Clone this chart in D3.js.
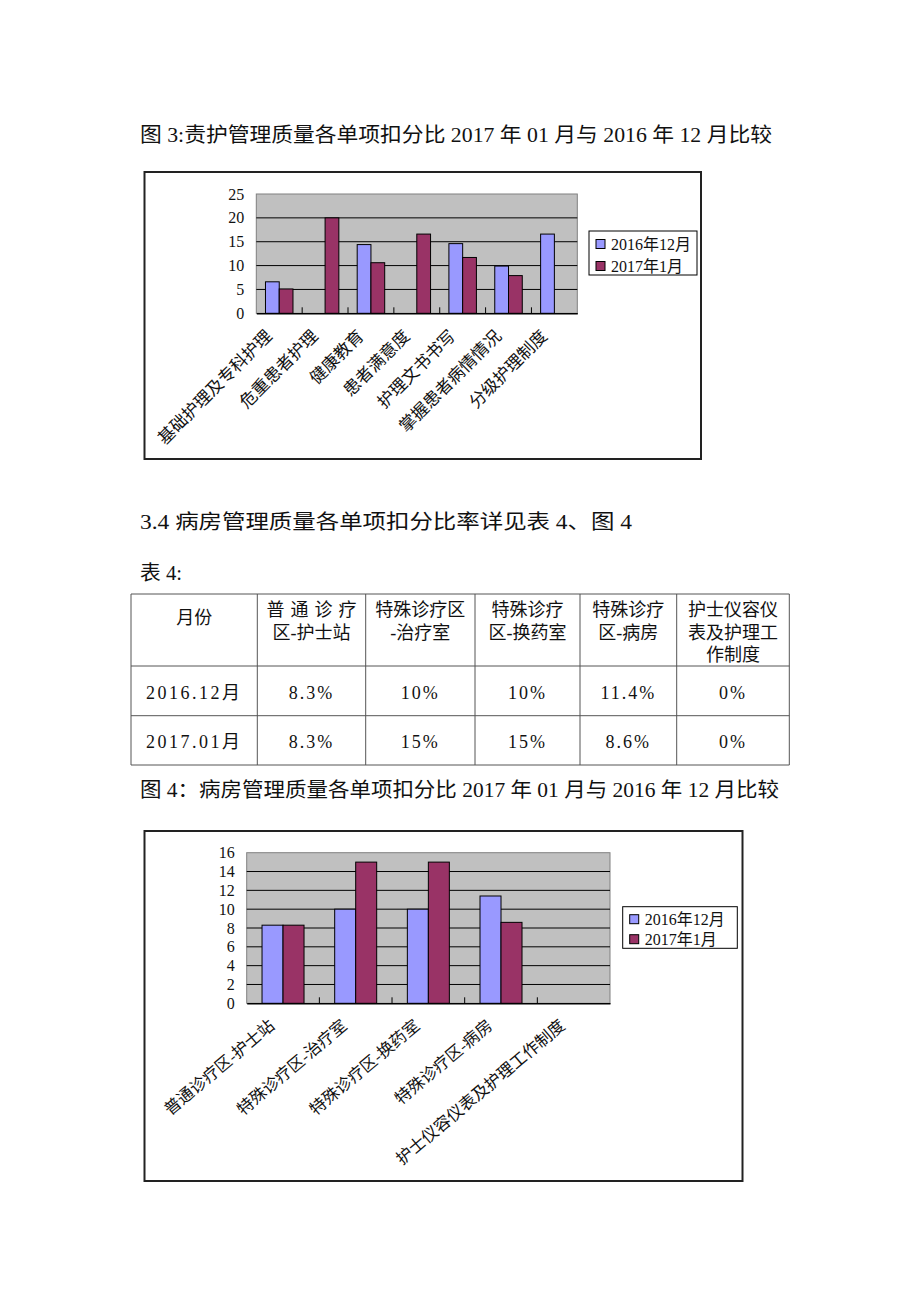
<!DOCTYPE html>
<html><head><meta charset="utf-8">
<script src="https://cdn.jsdelivr.net/npm/d3@7"></script>
<style>
html,body{margin:0;padding:0;background:#fff;}
svg{display:block;}
text{font-family:"Liberation Serif","Noto Sans CJK SC",serif;fill:#111;}
</style></head><body>
<script>
// ---------- data ----------
const series = ["2016年12月", "2017年1月"];
const chart1Categories = ["基础护理及专科护理","危重患者护理","健康教育","患者满意度","护理文书书写","掌握患者病情情况","分级护理制度"];
const chart1Dec2016 = [6.6, 0, 14.4, 0, 14.6, 9.9, 16.6];
const chart1Jan2017 = [5.1, 20, 10.6, 16.6, 11.7, 7.9, 0];
const chart1Ticks = [0, 5, 10, 15, 20, 25];

const chart2Categories = ["普通诊疗区-护士站","特殊诊疗区-治疗室","特殊诊疗区-换药室","特殊诊疗区-病房","护士仪容仪表及护理工作制度"];
const chart2Dec2016 = [8.3, 10, 10, 11.4, 0];
const chart2Jan2017 = [8.3, 15, 15, 8.6, 0];
const chart2Ticks = [0, 2, 4, 6, 8, 10, 12, 14, 16];

const tableHeaderLines = [["月份"],["普通诊疗","区-护士站"],["特殊诊疗区","-治疗室"],["特殊诊疗","区-换药室"],["特殊诊疗","区-病房"],["护士仪容仪","表及护理工","作制度"]];
const tableRowLabels = ["2016.12月","2017.01月"];
const tableRow2016 = ["8.3%","10%","10%","11.4%","0%"];
const tableRow2017 = ["8.3%","15%","15%","8.6%","0%"];

const colors = ["#9999ff", "#993366"];

const svg = d3.select("body").append("svg").attr("width", 920).attr("height", 1302);

// ---------- paragraph text ----------
function para(txt, x, y, len){
  const t = svg.append("text").attr("x", x).attr("y", y).attr("dominant-baseline","central")
    .attr("font-size", 20).text(txt);
  if (len) t.attr("textLength", len).attr("lengthAdjust","spacingAndGlyphs");
}
para("图 3:责护管理质量各单项扣分比 2017 年 01 月与 2016 年 12 月比较", 140, 135, 632);
para("3.4 病房管理质量各单项扣分比率详见表 4、图 4", 140, 522, 492);
para("表 4:", 140, 573, 42);
para("图 4：病房管理质量各单项扣分比 2017 年 01 月与 2016 年 12 月比较", 140, 790, 639);

// ---------- chart ----------
function drawChart(o){
  const g = svg.append("g");
  g.append("rect").attr("x", o.box[0]).attr("y", o.box[1]).attr("width", o.box[2]).attr("height", o.box[3])
    .attr("fill","#fff").attr("stroke","#222").attr("stroke-width",2);
  const x = d3.scaleBand().domain(o.cats).range([o.px0, o.px1]).paddingInner(0).paddingOuter(0);
  const xs = d3.scaleBand().domain(series).range([0, x.bandwidth()]).paddingInner(0).paddingOuter(o.outerPad);
  const y = d3.scaleLinear().domain([0, o.max]).range([o.py1, o.py0]);
  // plot area
  g.append("rect").attr("x", o.px0).attr("y", o.py0).attr("width", o.px1-o.px0).attr("height", o.py1-o.py0)
    .attr("fill","#c0c0c0").attr("stroke","#808080").attr("stroke-width",1);
  // gridlines
  g.append("g").selectAll("line").data(o.ticks.filter(t => t>0 && t<o.max)).join("line")
    .attr("x1", o.px0).attr("x2", o.px1).attr("y1", d=>y(d)).attr("y2", d=>y(d))
    .attr("stroke","#000").attr("stroke-width",1);
  // y axis labels
  const ya = g.append("g").attr("transform", `translate(${o.px0-12},0)`)
    .call(d3.axisLeft(y).tickValues(o.ticks).tickSize(0).tickPadding(0));
  ya.select(".domain").remove();
  ya.selectAll("text").attr("font-size", 16).attr("font-family","Liberation Serif").attr("fill","#111");
  // bars
  const data = o.cats.map((c,i)=>({c, v:[o.a[i], o.b[i]]}));
  const grp = g.append("g").selectAll("g").data(data).join("g").attr("transform", d=>`translate(${x(d.c)},0)`);
  grp.selectAll("rect").data(d => d.v.map((v,j)=>({s:series[j], v, j}))).join("rect")
    .attr("x", d=>xs(d.s)).attr("width", xs.bandwidth())
    .attr("y", d=>y(d.v)).attr("height", d=>y(0)-y(d.v))
    .attr("fill", d=>colors[d.j]).attr("stroke","#000").attr("stroke-width", d=>d.v>0?1:0);
  // baseline and ticks
  const xa = g.append("g").attr("transform", `translate(0,${o.py1})`)
    .call(d3.axisBottom(x).tickSize(0).tickFormat(""));
  xa.select(".domain").attr("stroke","#000").attr("stroke-width",1.5);
  g.append("g").selectAll("line").data(o.cats.slice(1)).join("line")
    .attr("x1", d=>x(d)).attr("x2", d=>x(d)).attr("y1", o.py1).attr("y2", o.py1-6)
    .attr("stroke","#000");
  // category labels
  g.append("g").selectAll("text").data(o.cats).join("text")
    .attr("transform", d=>`translate(${x(d)+x.bandwidth()/2+o.lblDx},${o.py1+20}) rotate(${o.rot})`)
    .attr("text-anchor","end").attr("dominant-baseline","central")
    .attr("font-family","Noto Sans CJK SC").attr("font-size", o.lblSize).text(d=>d);
  // legend
  const L = o.legend;
  g.append("rect").attr("x",L[0]).attr("y",L[1]).attr("width",L[2]).attr("height",L[3])
    .attr("fill","#fff").attr("stroke","#000").attr("stroke-width",1);
  const li = g.append("g").selectAll("g").data(series).join("g")
    .attr("transform",(d,i)=>`translate(${L[0]+7},${L[1]+o.legRow[i]})`);
  li.append("rect").attr("x",0).attr("y",-4.5).attr("width",9).attr("height",9)
    .attr("fill",(d,i)=>colors[i]).attr("stroke","#000");
  li.append("text").attr("x",15).attr("y",0).attr("dominant-baseline","central").attr("font-size",16).text(d=>d);
}

drawChart({box:[144.5,172,556.5,287], cats:chart1Categories, a:chart1Dec2016, b:chart1Jan2017, ticks:chart1Ticks, max:25,
  px0:256.3, px1:577.3, py0:194, py1:313.3, outerPad:0.667, rot:-45, lblDx:-10, lblSize:17,
  legend:[589,231,108,44], legRow:[13,35]});
drawChart({box:[144.5,831,598,350], cats:chart2Categories, a:chart2Dec2016, b:chart2Jan2017, ticks:chart2Ticks, max:16,
  px0:246.7, px1:610, py0:852.7, py1:1003.3, outerPad:0.73, rot:-40, lblDx:-11, lblSize:16.5,
  legend:[622.7,906.7,114.6,41.6], legRow:[12.5,32.5]});

// ---------- table ----------
const colX = [131, 257.3, 365.7, 475, 580, 676.7, 789.3];
const rowY = [594, 666, 715.7, 765];
const tg = svg.append("g");
tg.selectAll("line.v").data(colX).join("line").attr("x1",d=>d).attr("x2",d=>d).attr("y1",rowY[0]).attr("y2",rowY[3])
  .attr("stroke","#555").attr("stroke-width",1);
tg.selectAll("line.h").data(rowY).join("line").attr("y1",d=>d).attr("y2",d=>d).attr("x1",colX[0]).attr("x2",colX[6])
  .attr("stroke","#555").attr("stroke-width",1);
const colC = d3.range(6).map(i => (colX[i]+colX[i+1])/2);
tableHeaderLines.forEach((lines,i)=>{
  const y0 = lines.length===1 ? 618 : 610;
  lines.forEach((ln,k)=>{
    const t = tg.append("text").attr("x",colC[i]).attr("y",y0+k*22.5).attr("text-anchor","middle")
      .attr("dominant-baseline","central").attr("font-size",18).text(ln);
    if (i===1 && k===0) t.attr("letter-spacing",6).attr("x",colC[i]+3);
  });
});
[tableRow2016, tableRow2017].forEach((row,r)=>{
  const yc = [693, 741.5][r];
  tg.append("text").attr("x",colC[0]).attr("y",yc).attr("text-anchor","middle").attr("dominant-baseline","central")
    .attr("font-size",18).attr("letter-spacing",2.5).text(tableRowLabels[r]);
  row.forEach((v,i)=>{
    tg.append("text").attr("x",colC[i+1]).attr("y",yc).attr("text-anchor","middle").attr("dominant-baseline","central")
      .attr("font-size",18).attr("letter-spacing",2).text(v);
  });
});
</script>
</body></html>
